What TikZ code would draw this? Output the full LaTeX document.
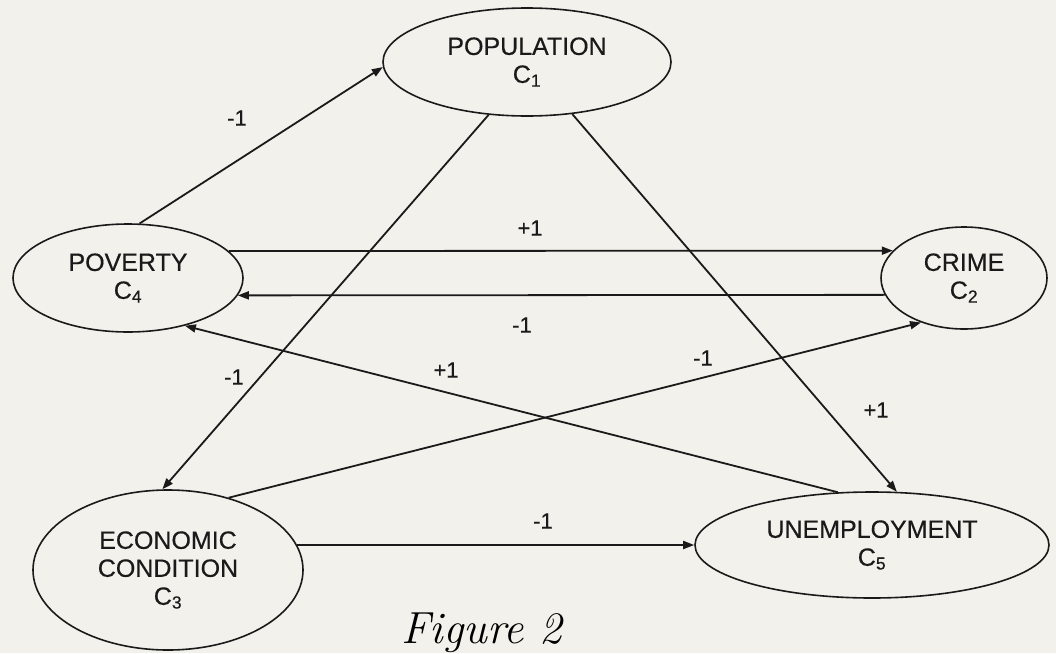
\documentclass[tikz,border=0pt]{standalone}
\usepackage{fontspec}
\setsansfont{Liberation Sans}[FakeBold=0.4]
\usetikzlibrary{shapes.geometric,arrows.meta}
\definecolor{paper}{HTML}{F2F1EC}
\definecolor{ink}{HTML}{1A1A1A}
\begin{document}
\begin{tikzpicture}[x=1pt,y=-1pt,
  concept/.style={ellipse, draw=ink, line width=1.6pt, inner sep=0pt,
    align=center, text=ink, font=\sffamily\fontsize{25}{28}\selectfont},
  link/.style={draw=ink, line width=1.8pt, -{Triangle[length=11pt,width=8pt]}},
  weight/.style={text=ink, inner sep=0pt, font=\sffamily\fontsize{22}{24}\selectfont}]
% page background
\fill[paper] (0,0) rectangle (1056,653);
\useasboundingbox (0,0) rectangle (1056,653);

% concepts
\node[concept, minimum width=288pt, minimum height=108pt] (pop)   at (527,62)  {POPULATION\\C\textsubscript{1}};
\node[concept, minimum width=230pt, minimum height=108pt] (pov)   at (128,278) {POVERTY\\C\textsubscript{4}};
\node[concept, minimum width=166pt, minimum height=102pt] (crime) at (964,278) {CRIME\\C\textsubscript{2}};
\node[concept, minimum width=270pt, minimum height=160pt] (econ)  at (168,570) {ECONOMIC\\CONDITION\\C\textsubscript{3}};
\node[concept, minimum width=354pt, minimum height=106pt] (unemp) at (872,545) {UNEMPLOYMENT\\C\textsubscript{5}};

% causal links
\draw[link] (pov.78)    -- (pop.182);
\draw[link] (pov.15)    -- (crime.159);
\draw[link] (crime.192) -- (pov.351);
\draw[link] (pop.234)   -- (econ.94);
\draw[link] (pop.311)   -- (unemp.65);
\draw[link] (econ.50)   -- (crime.226);
\draw[link] (unemp.123) -- (pov.320);
\draw[link] (econ.11)   -- (unemp.180);

% link weights
\node[weight] (wpovpop)    at (237,118) {-1};
\node[weight] (wpovcrime)  at (530,228) {+1};
\node[weight] (wcrimepov)  at (522,325) {-1};
\node[weight] (wpopecon)   at (234,377) {-1};
\node[weight] (wunemppov)  at (446,370) {+1};
\node[weight] (weconcrime) at (703,358) {-1};
\node[weight] (wpopunemp)  at (876,410) {+1};
\node[weight] (weconunemp) at (543,521) {-1};

% caption
\node[anchor=base west, inner sep=0pt, text=black,
      font=\fontsize{45}{50}\selectfont\itshape] (caption) at (401,643) {Figure 2};
\end{tikzpicture}
\end{document}
